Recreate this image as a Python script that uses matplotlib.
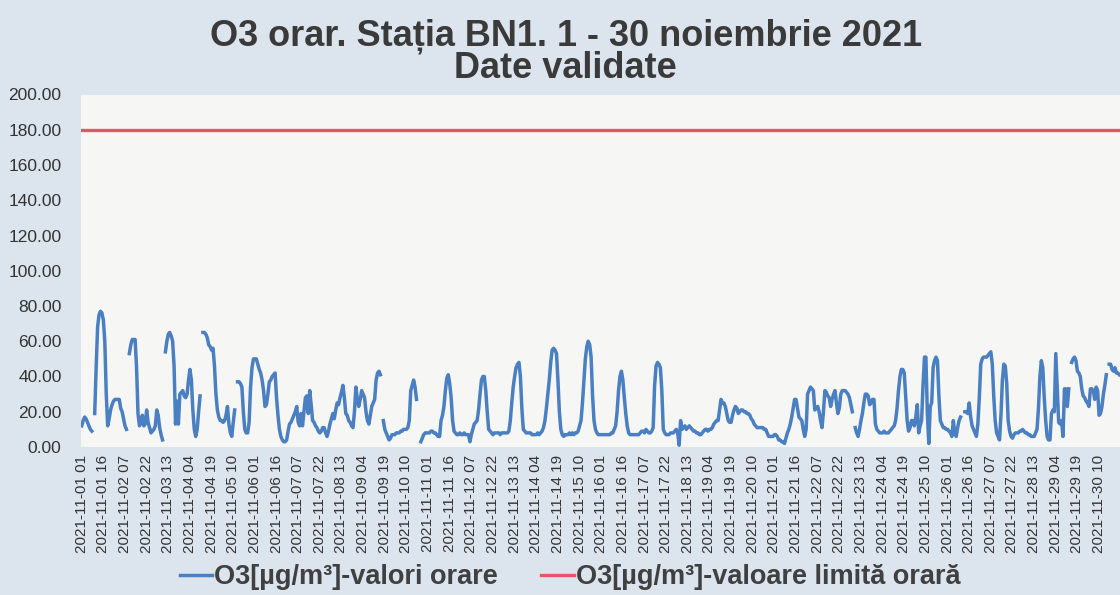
import numpy as np
import pandas as pd
import matplotlib
matplotlib.use("Agg")
import matplotlib.pyplot as plt

plt.rcParams["font.family"] = ["Liberation Sans", "DejaVu Sans"]

nan = np.nan

# hourly O3 values (µg/m³), one list per day, hours 01..24
nov01 = [12, 15, 17, 16, 14, 12, 10, 9, nan, 19, 45, 68, 75, 77, 76, 72, 60, 30, 12, 16, 21, 24, 26, 27]
nov02 = [27, 27, 27, 22, 20, 16, 12, 10, nan, 53, 58, 61, 61, 61, 45, 19, 12, 14, 18, 12, 13, 21, 14, 11]
nov03 = [8, 9, 10, 12, 21, 18, 11, 7, 4, nan, 54, 60, 64, 65, 63, 60, 46, 13, 26, 13, 30, 31, 32, 29]
nov04 = [28, 30, 38, 44, 38, 21, 10, 6, 10, 20, 29, nan, 65, 65, 64, 62, 58, 57, 55, 56, 46, 30, 21, 17]
nov05 = [15, 15, 14, 15, 18, 23, 13, 8, 6, 14, 21, nan, 37, 37, 36, 34, 20, 10, 8, 8, 14, 34, 45, 50]
nov06 = [50, 50, 47, 44, 42, 38, 32, 23, 24, 30, 37, 38, 40, 41, 42, 28, 18, 10, 6, 4, 3, 3, 4, 9]
nov07 = [13, 14, 16, 18, 20, 23, 14, 12, 19, 12, 20, 28, 29, 19, 32, 24, 15, 14, 12, 11, 9, 8, 9, 11]
nov08 = [11, 8, 6, 9, 13, 16, 19, 16, 21, 25, 24, 28, 31, 35, 28, 19, 18, 15, 14, 12, 11, 20, 34, 27]
nov09 = [23, 27, 32, 30, 28, 20, 15, 13, 18, 23, 25, 27, 38, 42, 43, 41, nan, 15, 10, 8, 6, 4, 5, 7]
nov10 = [7, 7, 8, 8, 8, 9, 9, 10, 10, 10, 11, 15, 32, 35, 38, 34, 27, nan, nan, 3, 5, 7, 8, 8]
nov11 = [8, 8, 9, 9, 8, 8, 7, 6, 6, 15, 18, 23, 32, 39, 41, 36, 28, 15, 9, 8, 7, 7, 8, 7]
nov12 = [7, 8, 7, 7, 7, 3, 7, 10, 13, 14, 15, 21, 30, 38, 40, 40, 32, 20, 10, 9, 8, 7, 8, 8]
nov13 = [8, 8, 7, 8, 8, 8, 8, 8, 9, 15, 25, 34, 40, 45, 47, 48, 40, 22, 10, 9, 8, 8, 8, 8]
nov14 = [7, 7, 7, 7, 8, 7, 8, 9, 11, 15, 22, 30, 38, 48, 55, 56, 55, 53, 38, 20, 10, 7, 6, 7]
nov15 = [7, 7, 8, 7, 8, 7, 8, 8, 9, 12, 15, 25, 38, 50, 57, 60, 58, 51, 29, 15, 10, 8, 7, 7]
nov16 = [7, 7, 7, 7, 7, 7, 7, 8, 8, 10, 12, 20, 32, 40, 43, 38, 28, 19, 12, 8, 7, 7, 7, 7]
nov17 = [7, 7, 7, 8, 9, 9, 8, 10, 9, 8, 8, 9, 11, 35, 46, 48, 47, 45, 32, 10, 8, 7, 7, 7]
nov18 = [8, 8, 8, 9, 10, 8, 1, 15, 10, 11, 12, 10, 11, 12, 11, 10, 9, 9, 8, 8, 7, 7, 8, 9]
nov19 = [10, 10, 9, 10, 10, 11, 13, 14, 15, 15, 21, 27, 25, 25, 23, 19, 15, 14, 14, 18, 21, 23, 22, 19]
nov20 = [20, 21, 21, 20, 20, 19, 19, 18, 16, 15, 13, 12, 11, 11, 11, 11, 11, 10, 10, 8, 6, 6, 6, 6]
nov21 = [7, 7, 6, 4, 4, 3, 3, 2, 5, 8, 10, 13, 17, 22, 27, 27, 22, 17, 16, 15, 10, 6, 10, 30]
nov22 = [32, 34, 33, 32, 21, 22, 23, 20, 15, 11, 20, 32, 31, 29, 28, 23, 27, 30, 32, 25, 19, 22, 30, 32]
nov23 = [32, 32, 31, 30, 28, 24, 20, nan, 11, 8, 6, 10, 15, 19, 25, 30, 30, 29, 24, 25, 27, 27, 13, 10]
nov24 = [9, 8, 8, 8, 9, 8, 8, 8, 9, 10, 11, 12, 15, 22, 32, 40, 44, 44, 42, 29, 15, 9, 11, 15]
nov25 = [15, 12, 17, 24, 8, 12, 15, 35, 51, 51, 19, 2, 23, 25, 45, 49, 51, 49, 29, 15, 13, 11, 11, 10]
nov26 = [10, 9, 8, 6, 15, 8, 6, 11, 15, 17, nan, nan, 20, 20, 19, 25, 17, 12, 10, 8, 6, 13, 28, 47]
nov27 = [50, 51, 51, 51, 52, 53, 54, 47, 29, 15, 8, 6, 4, 18, 38, 47, 46, 36, 15, 9, 6, 5, 7, 8]
nov28 = [8, 8, 9, 9, 10, 9, 8, 8, 7, 7, 6, 6, 6, 8, 10, 22, 40, 49, 45, 28, 15, 6, 4, 4]
nov29 = [19, 21, 20, 53, 33, 14, 13, 15, 6, 33, 33, 23, 33, nan, 48, 50, 51, 49, 43, 42, 40, 33, 29, 28]
nov30 = [26, 25, 23, 33, 33, 32, 27, 34, 32, 18, 19, 23, 30, 35, 41, nan, 47, 47, 44, 43, 45, 42, 42, 41]

LIMIT = 180  # valoare limita orara

TITLE_1 = "O3 orar. Stația BN1. 1 - 30 noiembrie 2021"
TITLE_2 = "Date validate"
LABEL_O3 = "O3[µg/m³]-valori orare"
LABEL_LIM = "O3[µg/m³]-valoare limită orară"

BG = "#dce4ed"
PLOT_BG = "#f6f6f4"
BLUE = "#4a7fc2"
RED = "#e2566a"
TXT = "#333333"

o3 = np.array(nov01 + nov02 + nov03 + nov04 + nov05 + nov06 + nov07 + nov08 + nov09 + nov10
              + nov11 + nov12 + nov13 + nov14 + nov15 + nov16 + nov17 + nov18 + nov19 + nov20
              + nov21 + nov22 + nov23 + nov24 + nov25 + nov26 + nov27 + nov28 + nov29 + nov30,
              dtype=float)
hours = pd.date_range("2021-11-01 01:00", periods=len(o3), freq="h")
x = np.arange(len(o3))
tick_pos = x[::15]
tick_lab = [h.strftime("%Y-%m-%d %H") for h in hours[::15]]

fig = plt.figure(figsize=(11.2, 5.95), dpi=100)
fig.patch.set_facecolor(BG)
ax = fig.add_axes([81 / 1120, 1 - 447 / 595, 1039 / 1120, (447 - 94.5) / 595])
ax.set_facecolor(PLOT_BG)

l1, = ax.plot(x, o3, color=BLUE, lw=2.5, solid_joinstyle="round", label=LABEL_O3)
l2 = ax.axhline(LIMIT, color=RED, lw=2.4, label=LABEL_LIM)

ax.set_xlim(-0.5, len(o3) - 0.5)
ax.set_ylim(0, 200)
ax.set_yticks(np.arange(0, 201, 20))
ax.set_yticklabels([f"{v:.2f}" for v in np.arange(0, 201, 20)])
ax.set_xticks(tick_pos)
ax.set_xticklabels(tick_lab, rotation=90)
ax.tick_params(axis="x", length=0, pad=6, labelsize=11, labelcolor=TXT)
ax.tick_params(axis="y", length=0, pad=14, labelsize=12.5, labelcolor=TXT)
for s in ax.spines.values():
    s.set_visible(False)

fig.text(0.505, 1 - 36 / 595, TITLE_1, ha="center", va="center",
         fontsize=26, fontweight="bold", color="#3a3a3a")
fig.text(0.505, 1 - 69 / 595, TITLE_2, ha="center", va="center",
         fontsize=26, fontweight="bold", color="#3a3a3a")

fig.legend(handles=[l1, l2], loc="center", bbox_to_anchor=(570 / 1120, 1 - 577 / 595),
           ncol=2, frameon=False, handlelength=1.2, handletextpad=0.08,
           columnspacing=1.6, prop={"size": 19.5, "weight": "bold"}, labelcolor="#404040")

fig.savefig("out.png", dpi=100, facecolor=BG)
